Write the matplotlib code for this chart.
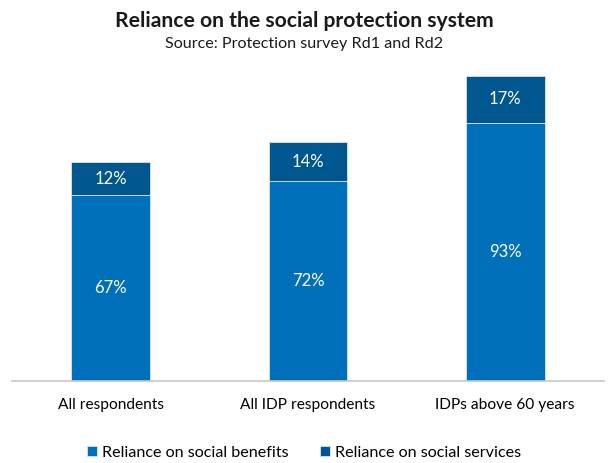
import matplotlib
matplotlib.use("Agg")
import matplotlib.pyplot as plt
import numpy as np

categories = ["All respondents", "All IDP respondents", "IDPs above 60 years"]
benefits = [67, 72, 93]
services = [12, 14, 17]

c_benefits = "#0070BA"
c_services = "#00578F"

plt.rcParams["font.family"] = ["Lato", "DejaVu Sans"]

fig = plt.figure(figsize=(6.08, 4.63), dpi=100)
ax = fig.add_axes([0.02, 0.177, 0.973, 0.719])

x = np.arange(len(categories))
b1 = ax.bar(x, benefits, width=0.40, color=c_benefits, edgecolor="#d8e4ef",
            linewidth=0.6, label="Reliance on social benefits")
b2 = ax.bar(x, services, width=0.40, bottom=benefits, color=c_services,
            edgecolor="#d8e4ef", linewidth=0.6, label="Reliance on social services")

for i in range(len(categories)):
    ax.text(x[i], benefits[i] / 2, f"{benefits[i]}%", ha="center", va="center",
            color="white", fontsize=12)
    ax.text(x[i], benefits[i] + services[i] / 2, f"{services[i]}%", ha="center",
            va="center", color="white", fontsize=12)

ax.set_xlim(-0.5, len(categories) - 0.5)
ax.set_ylim(0, 120)
ax.set_xticks(x)
ax.set_xticklabels(categories, fontsize=11.2)
ax.tick_params(axis="x", length=0, pad=12)
ax.set_yticks([])
for s in ["top", "right", "left"]:
    ax.spines[s].set_visible(False)
ax.spines["bottom"].set_color("#c8c8c8")
ax.spines["bottom"].set_linewidth(1.2)

fig.text(0.5, 0.955, "Reliance on the social protection system", ha="center",
         va="center", fontsize=15.2, fontweight="bold", color="#1a1a1a")
fig.text(0.5, 0.906, "Source: Protection survey Rd1 and Rd2", ha="center",
         va="center", fontsize=11.6, color="#1a1a1a")

fig.legend(handles=[b1, b2], loc="center", bbox_to_anchor=(0.5, 0.022),
           ncol=2, frameon=False, fontsize=11.6, handlelength=0.6,
           handleheight=0.6, handletextpad=0.3, columnspacing=2.0)

fig.savefig("out.png", dpi=100)
